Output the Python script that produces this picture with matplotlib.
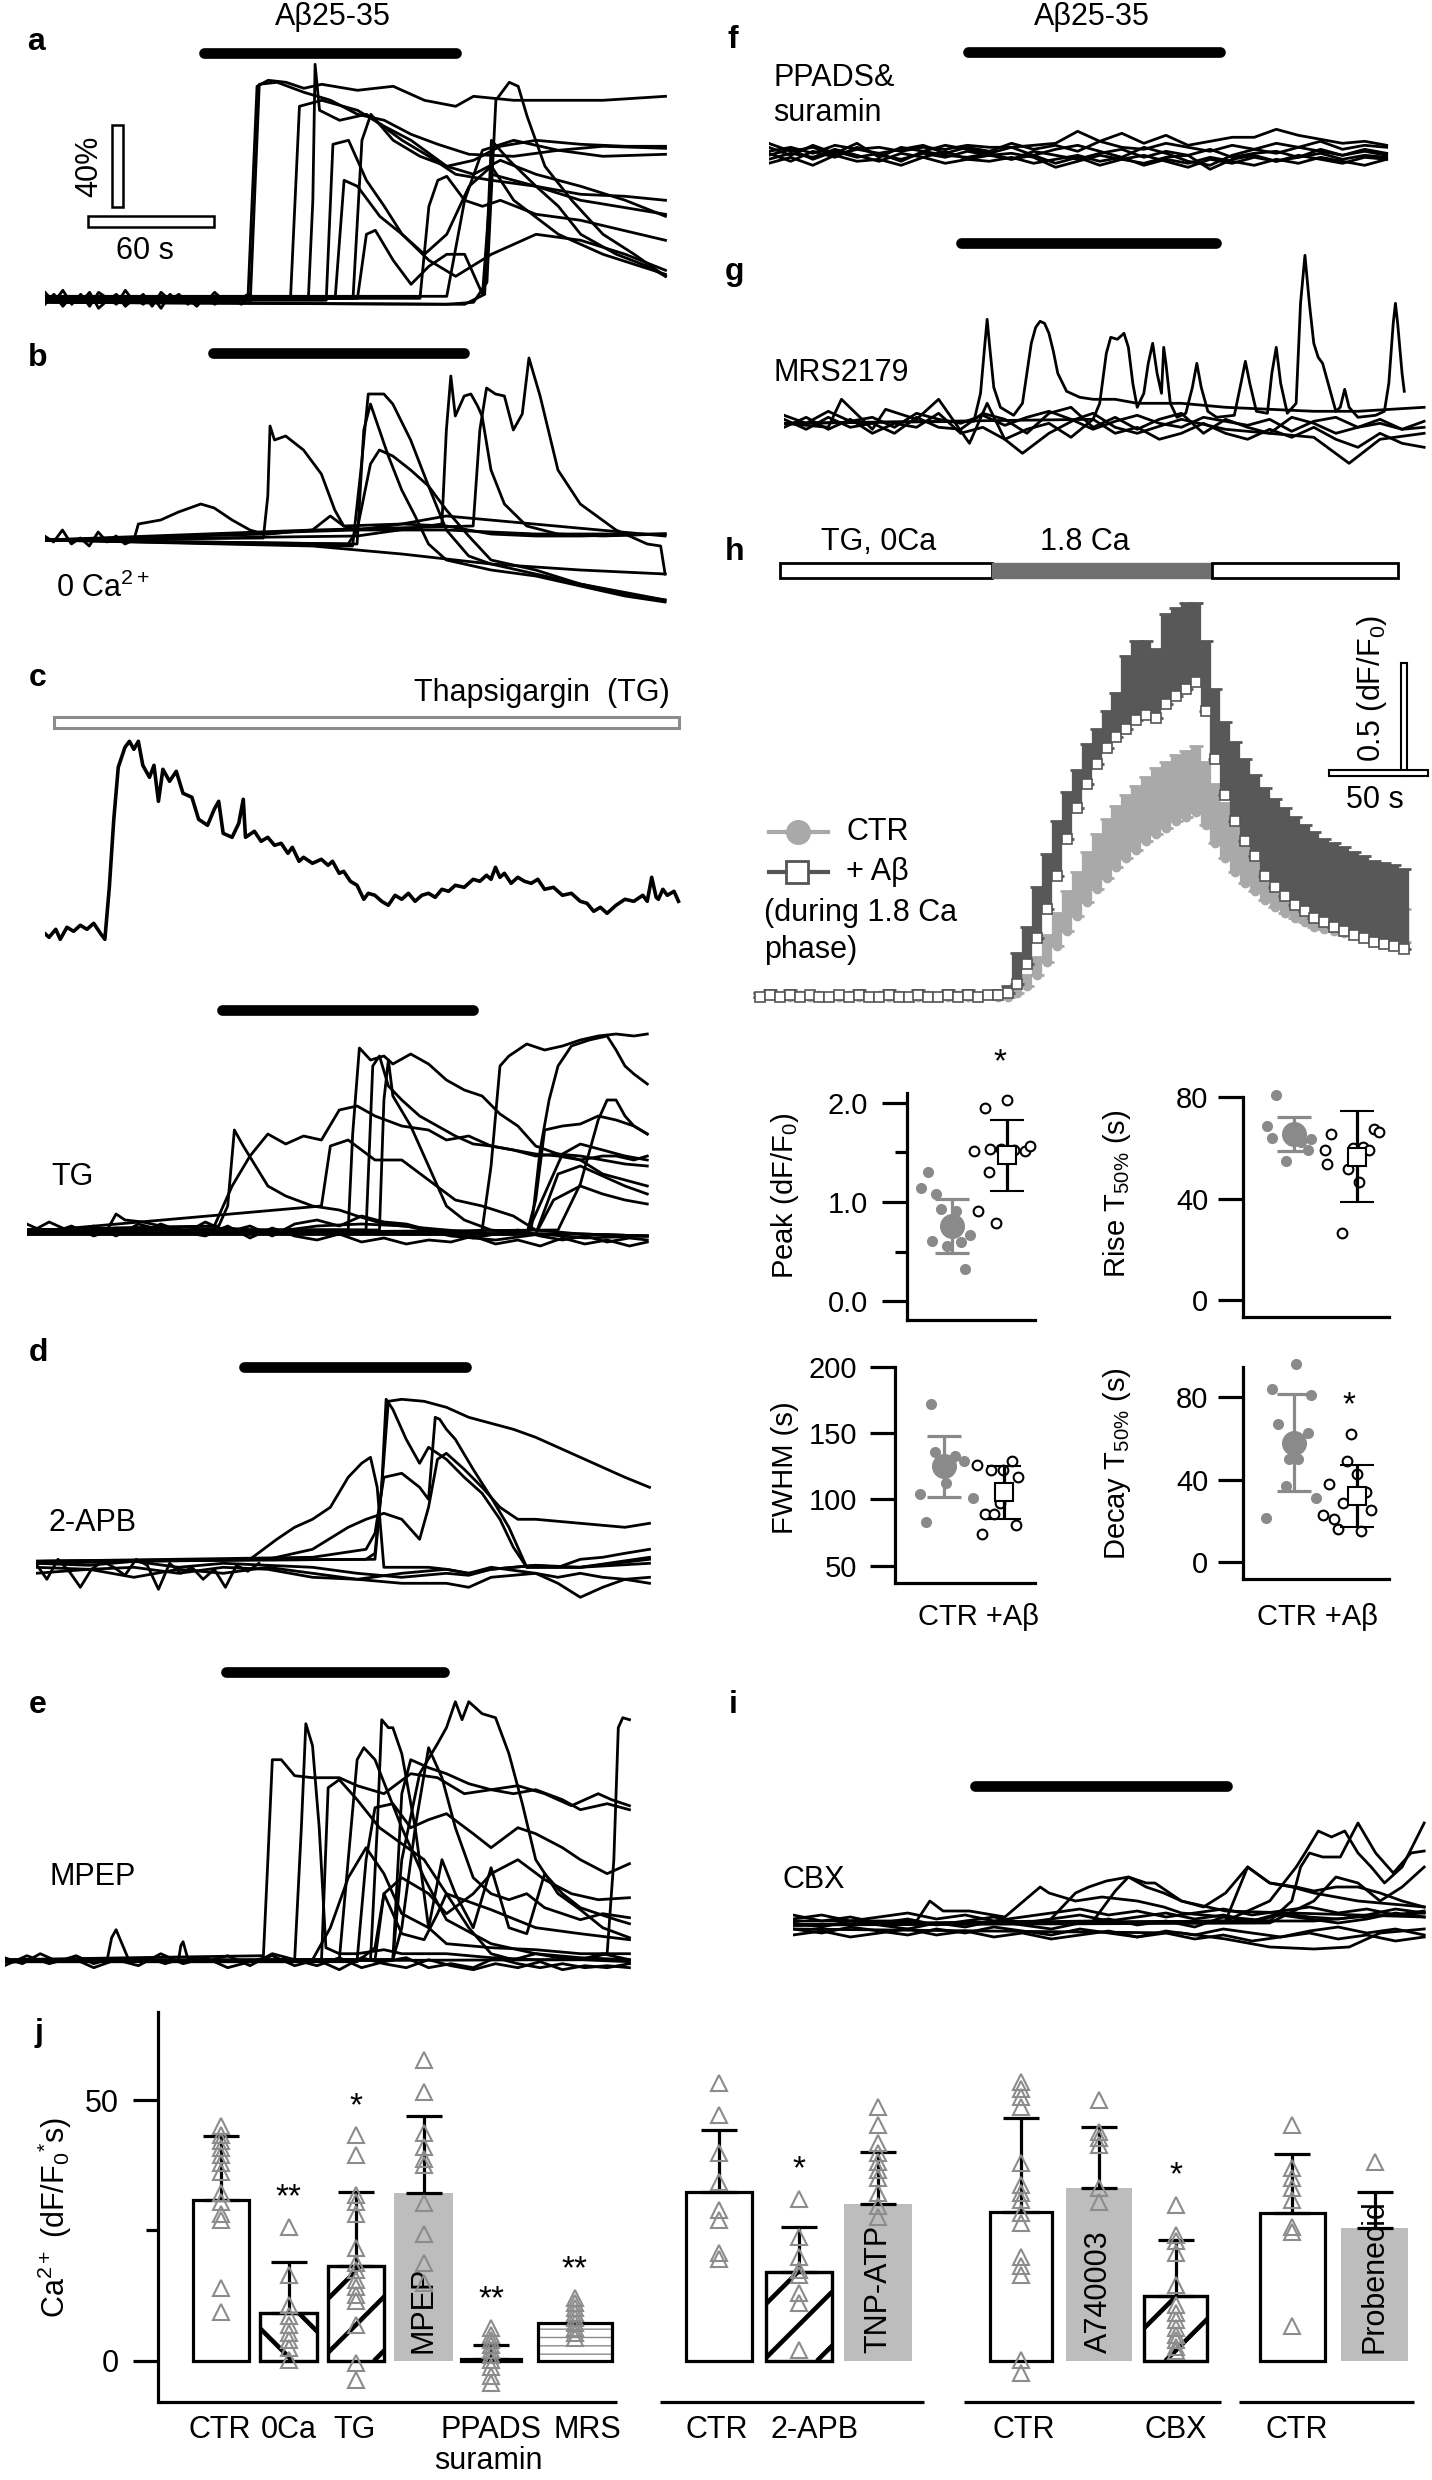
import numpy as np
import matplotlib
matplotlib.use('Agg')
import matplotlib.pyplot as plt
from matplotlib.lines import Line2D
from matplotlib.patches import Rectangle

plt.rcParams['font.family'] = ['Liberation Sans', 'DejaVu Sans']
plt.rcParams['mathtext.fontset'] = 'custom'
plt.rcParams['mathtext.rm'] = 'Liberation Sans'
plt.rcParams['mathtext.it'] = 'Liberation Sans:italic'
plt.rcParams['mathtext.bf'] = 'Liberation Sans:bold'

# ---------------- data ----------------
# a: Abeta25-35 traces (t in s, dF in %)
a_traces = [
    ([0,40,88,91,95,100,108,116,124,140,156,170,184,192,210,230,250,278], [1,-1,0,2,106,109,108,105,107,104,106,99,96,101,99,99,99,101]),
    ([0,92,96,104,116,128,140,152,164,176,190,210,230,250,278], [-1,-1,107,108,103,99,92,89,82,77,72,71,74,76,75]),
    ([0,110,114,124,140,152,164,180,192,204,220,240,260,278], [0,0,96,99,94,86,79,66,62,69,62,56,49,41]),
    ([0,118,120,121,123,132,144,160,172,184,200,220,240,260,278], [0,0,49,117,94,89,92,79,71,62,59,56,52,51,49]),
    ([0,126,129,136,144,152,160,170,180,190,200,210,230,250,278], [-1,-1,77,79,59,46,32,22,32,56,66,49,32,22,12]),
    ([0,138,142,146,156,168,180,192,204,220,240,260,278], [0,0,79,92,79,71,66,69,76,79,77,76,76]),
    ([0,180,192,198,202,208,212,216,224,236,250,264,278], [-2,-3,-2,8,99,108,106,91,66,49,32,22,11]),
    ([0,188,197,200,208,220,230,240,256,270,278], [-2,-3,2,79,69,56,46,32,22,16,11]),
    ([0,168,172,176,180,188,196,204,220,240,278], [0,0,46,59,61,49,46,49,42,39,29]),
    ([0,140,144,148,156,164,172,180,188,196,200,220,240,278], [0,0,32,34,19,7,16,22,22,2,62,56,49,42]),
    ([0,180,188,196,210,230,250,278], [1,1,49,74,79,74,71,72]),
    ([0,130,134,140,150,160,172,184,200,220,240,260,278], [0,0,59,56,41,32,19,11,22,32,29,22,14]),
    ([0,4,8,12,16,20,24,28,32,36,40,44,48,52,56,60,64,68,72,76,80,84,88,92], [3,-2,4,-3,2,-4,3,0,-3,4,-2,2,-4,3,-1,2,-3,1,-2,3,-1,0,-3,2]),
    ([0,4,8,12,16,20,24,28,32,36,40,44,48,52,56,60,64,68,72,76,80,84,88,92], [-3,2,-4,1,-2,3,-5,-1,2,-4,0,-3,1,-5,2,-2,0,-4,1,-3,0,-2,1,-1]),
]

# b: 0 Ca2+
b_traces = [
    ([0,40,42,52,60,70,76,84,92,98,110,140,180,220,278], [0,0,8,10,14,18,16,10,5,3,4,5,5,3,3]),
    ([0,98,100,101,103,108,116,124,130,134,140,160,180,200,220,240,278], [0,1,22,57,50,52,45,33,15,7,5,8,7,3,2,2,3]),
    ([0,138,142,145,152,156,164,172,180,190,200,220,240,260,278], [0,-3,38,73,73,68,50,27,5,-8,-12,-17,-22,-27,-30]),
    ([0,140,143,146,154,160,166,172,180,200,220,240,260,278], [0,-2,55,68,42,25,12,-2,-10,-15,-18,-23,-28,-31]),
    ([0,136,140,146,150,156,164,172,180,190,200,220,240,278], [0,-2,5,38,45,42,35,27,15,2,-10,-15,-22,-30]),
    ([0,140,178,180,182,184,188,191,194,196,200,206,216,230,250,278], [0,2,8,55,82,62,72,73,67,62,35,18,7,3,2,3]),
    ([0,120,192,195,198,202,206,210,214,217,222,230,240,256,270,276,278], [0,5,7,55,76,73,72,55,63,91,72,35,18,5,-2,-3,-17]),
    ([0,80,120,160,200,240,278], [0,-2,-3,-7,-12,-15,-17]),
    ([0,100,120,128,134,160,180,278], [0,3,5,12,7,8,12,2]),
    ([0,4,8,12,16,20,24,28,32,36,40], [2,-1,5,-2,1,-3,4,-1,2,-2,0]),
]

# c: single thapsigargin trace
c_t = [0,2,5,7,10,13,16,19,22,25,27,29,31,33,36,38,40,42,44,47,49,51,53,56,59,62,66,69,73,76,
       78,80,84,87,89,90,94,97,100,103,106,109,111,114,116,120,124,127,129,132,134,137,140,143,145,
       148,151,154,157,160,163,166,169,172,175,178,181,184,188,192,195,198,200,202,204,206,209,212,
       215,218,221,224,228,232,236,240,243,246,249,252,256,260,264,268,270,272,274,275,277,279,282,284]
c_v = [0,-2,2,-3,3,1,4,2,5,0,-3,23,57,83,93,96,92,96,84,78,84,66,82,76,81,70,68,57,54,62,
       66,50,48,55,67,48,51,46,48,44,45,40,43,36,38,35,37,34,36,30,31,26,24,17,20,
       19,16,14,19,17,20,16,19,20,18,22,21,24,23,27,26,29,27,33,28,30,25,28,
       26,25,27,22,23,19,20,16,15,11,13,10,14,17,16,19,16,28,18,17,22,19,21,16]

# TG (c, lower)
tg_grid = [0,10,20,30,40,50,60,70,80,90,100,110,120,130,140,150,160,170,180,190,200,210,220,230,240,250,260,270,278]
tg_traces = [
    ([0,86,90,93,97,108,116,128,140,148,160,168,188,208,228,248,278], [0,2,12,50,42,22,17,12,10,7,3,2,0,-2,-2,-2,-3]),
    ([0,84,92,100,108,116,124,132,140,148,156,168,180,188,198,208,218,228,238,248,258,268,278], [0,2,22,37,48,43,47,45,60,62,57,52,50,45,47,42,40,37,38,37,35,33,32]),
    ([0,144,146,149,154,160,164,172,180,188,196,204,212,220,228,238,248,258,264,272,278], [0,0,48,91,85,87,83,88,83,75,70,67,58,52,42,38,35,37,37,35,37]),
    ([0,152,155,158,162,168,176,184,192,200,208,218,228,238,248,258,268,278], [0,0,82,87,72,65,57,52,47,43,42,40,38,37,35,28,25,22]),
    ([0,158,160,162,164,172,180,188,196,208,228,248,278], [0,0,65,85,67,52,32,12,5,0,-2,-2,-3]),
    ([0,132,136,144,156,168,180,192,204,218,228,248,278], [-1,12,42,45,35,35,25,15,12,7,0,-2,-3]),
    ([0,188,204,208,212,216,224,232,240,248,256,264,272,278], [-1,-2,0,32,82,87,93,90,92,95,97,98,97,98]),
    ([0,218,226,230,234,238,244,252,260,264,268,272,278], [-2,-2,0,40,65,82,92,95,97,90,82,78,73]),
    ([0,224,228,232,240,248,256,264,272,278], [-2,-2,15,50,52,53,57,55,52,48]),
    ([0,238,248,256,260,264,268,272,278], [-2,0,23,55,65,65,57,52,48]),
    ([0,224,234,240,248,258,268,278], [-2,-2,23,38,43,40,37,35]),
    ([0,228,238,248,258,268,278], [-2,-2,28,32,27,22,18]),
    ([0,228,236,248,258,268,278], [-2,-2,15,22,18,15,13]),
    ([0,36,40,44,52,60,70,90,110,130,150,170,190,210,230,250,278], [0,0,8,5,4,2,0,1,-1,2,3,2,-3,-5,-2,-4,-3]),
    (tg_grid, [3,-2,2,-3,1,-2,3,-1,-3,2,-4,1,-3,-5,-2,-6,-4,-7,-5,-6,-3,-7,-5,-8,-4,-7,-5,-8,-6]),
    (tg_grid, [-2,4,-1,2,-3,3,0,-2,4,-1,2,-3,3,5,2,7,4,3,0,-2,-4,-2,0,-3,-5,-3,-6,-4,-5]),
]

# d: 2-APB
d_grid = [0,24,44,64,84,104,124,144,164,184,194,204,224,234,244,254,264,275]
d_traces = [
    ([0,148,152,155,158,164,174,184,194,204,214,224,234,244,254,264,275], [1,2,5,38,81,82,81,78,73,70,67,63,58,53,48,43,38]),
    ([0,96,102,108,116,124,132,140,146,150,153,156,164,176,184,194,204,214,224,244,275], [1,2,7,12,18,22,28,43,50,53,38,-2,-2,-2,-3,-5,-3,-2,-1,-2,3]),
    ([0,152,155,157,160,166,172,176,180,184,192,200,208,214,220,244,275], [1,2,38,82,77,62,50,58,55,52,43,35,22,8,-2,-2,2]),
    ([0,124,136,148,152,156,164,172,176,179,181,184,188,196,204,212,220,244,275], [1,3,5,7,15,43,45,38,32,73,72,67,62,47,33,18,-2,-2,0]),
    ([0,104,124,140,148,156,164,172,176,180,184,192,200,208,216,224,244,264,275], [0,2,7,18,22,25,22,12,28,52,55,47,38,28,22,22,20,18,20]),
    (d_grid, [-5,-3,-7,-3,-5,-2,-5,-8,-10,-10,-12,-7,-5,-10,-17,-12,-8,-10]),
    (d_grid, [0,-1,1,-2,0,-1,-2,-5,-7,-5,-6,-3,-1,-2,2,3,5,7]),
    (d_grid, [-2,-3,-2,-5,-2,-3,-7,-8,-5,-3,-5,-2,-5,-7,-5,-7,-8,-7]),
    ([0,5,10,15,20,25,30,35,40,45,50,55,60,65,70,75,80,85,90,95,100], [0,-8,2,-4,-12,-3,1,-2,-6,2,-1,-13,0,-5,-2,-8,-3,-12,-1,-4,0]),
]

# e: MPEP
e_grid = [0,10,20,30,40,50,60,70,80,90,100,110,120,130,140,150,160,170,180,190,200,210,220,230,240,250,260,270,280]
e_traces = [
    ([0,116,118,120,124,130,138,150,158,170,182,194,206,218,230,242,254,266,272,280], [1,3,51,101,101,93,92,92,88,84,94,92,84,86,88,84,78,84,81,78]),
    ([0,130,133,135,138,141,144,150,158,170,178,198,218,238,258,280], [1,1,67,119,108,67,7,4,4,6,4,4,2,1,1,0]),
    ([0,164,167,169,172,174,178,184,190,198,218,238,258,280], [0,1,67,121,117,117,104,67,17,9,7,6,4,4]),
    ([0,174,178,186,194,198,202,205,208,214,220,226,232,238,248,258,268,280], [0,1,51,94,109,117,130,121,130,124,122,104,79,51,34,26,17,12]),
    ([0,150,154,158,161,166,172,178,188,198,218,238,258,280], [0,1,51,101,107,101,84,67,42,21,9,4,2,1]),
    ([0,142,145,150,158,168,178,188,198,218,238,258,280], [0,0,87,91,81,67,59,51,34,26,17,14,11]),
    ([0,158,162,166,174,182,190,198,210,218,230,238,250,258,270,280], [0,1,51,77,79,67,71,74,64,57,67,64,57,51,44,49]),
    ([0,174,178,182,190,198,208,218,228,238,250,258,270,280], [0,1,84,101,97,94,89,86,84,86,81,76,79,76]),
    ([0,258,270,273,275,277,280], [0,1,4,51,117,122,121]),
    ([0,138,146,154,162,170,178,190,196,202,210,218,226,234,242,250,258,266,274,280], [0,1,17,42,57,44,24,17,51,34,17,47,17,14,44,34,27,24,21,19]),
    ([0,158,166,170,178,188,194,198,208,218,228,238,248,258,268,280], [0,0,7,34,14,11,24,34,17,4,1,4,2,1,4,1]),
    ([0,174,178,184,190,196,202,210,218,226,234,242,250,258,268,280], [0,1,17,67,107,92,67,42,34,31,34,27,24,21,24,22]),
    ([0,166,170,178,190,198,210,218,230,242,254,266,280], [0,1,34,42,34,24,34,44,51,41,34,31,32]),
    ([0,8,16,24,32,40,46,48,50,53,56,64,72,78,79,80,82,90,100,110,120,130,140,150,160,170,180,190,200,210,220,230,240,250,260,270,280],
     [2,-1,4,0,3,-1,1,12,16,8,0,2,-1,1,8,10,2,0,3,-2,4,1,-2,2,-3,0,2,-3,-1,-3,2,-1,-3,-1,-3,-2,-3]),
    (e_grid, [-2,3,-1,2,-3,1,-2,4,-1,2,-3,0,3,-2,1,-4,2,-1,-3,1,-2,-4,-1,-3,0,-4,-2,-3,-1]),
]

# f: PPADS & suramin
f_grid = [0,10,20,30,40,50,60,70,80,90,100,110,120,130,140,150,160,170,180,190,200,210,220,230,240,250,260,270,280]
f_traces = [
    (f_grid, [1,3,0,4,2,3,1,3,2,4,3,3,4,5,11,6,10,5,9,4,6,8,8,12,9,7,5,6,4]),
    (f_grid, [-1,2,-3,1,-2,0,-4,1,-1,-2,0,-3,-1,-5,-2,-6,-3,-1,-4,-7,-3,-5,-2,-4,-1,-3,-5,-2,-3]),
    (f_grid, [3,-1,4,0,5,-2,3,1,4,2,0,3,-1,2,4,1,-2,3,0,-4,-6,-1,2,0,3,1,-1,2,0]),
    (f_grid, [-3,0,-2,2,-1,-4,0,-2,1,-3,-1,0,-2,-7,-4,-1,-3,-5,-2,-1,-8,-3,-1,-4,-2,0,-3,-1,-2]),
    (f_grid, [0,-4,1,-2,3,-1,-3,0,-2,1,-1,-3,1,-1,-3,0,2,-2,1,-1,2,-2,0,1,-2,2,-1,1,-1]),
    (f_grid, [5,1,3,-1,2,0,2,4,0,3,1,5,2,4,1,6,3,2,5,3,1,4,2,5,3,6,2,4,3]),
    (f_grid, [-5,-2,-6,-1,-4,-3,-6,-2,-5,-3,-4,-2,-5,-3,-1,-4,-2,-6,-3,-5,-2,-4,-6,-3,-5,-2,-4,-6,-3]),
]

# g: MRS2179
g_grid = [0,10,20,30,40,50,60,70,80,90,100,110,120,130,140,150,160,170,180,190,200,210,220,230,240,250,260,270,280,290]
g_traces = [
    ([0,86,89,91,92,93,95,98,104,108,110,112,114,116,118,120,122,124,128,134,140,150,160,180,200,220,240,260,290],
     [0,1,15,40,52,40,18,8,4,10,25,40,48,51,50,45,36,25,16,13,12,12,10,10,8,7,6,6,8]),
    ([0,140,143,146,148,151,154,156,158,160,163,165,167,169,171,172,173,175,178,182,185,187,189,192,196,204,207,209,211,214,
      219,221,223,225,228,232,234,236,238,240,242,244,247,250,252,254,256,260,268,272,274,276,277,278,280,281],
     [0,2,10,35,43,42,45,38,20,8,15,30,40,25,15,38,30,10,3,5,18,30,18,6,3,4,20,31,20,6,
      5,25,38,20,5,10,60,84,60,40,33,30,18,6,8,17,8,3,4,6,20,50,60,50,25,16]),
    ([0,20,26,40,46,60,70,84,92,100,108,120,132,140,150,160,180,200,220,240,256,270,290], [0,-2,12,-3,7,2,12,-10,10,-8,-15,-5,2,5,-2,-5,2,-3,-5,-7,-20,-8,-5]),
    (g_grid, [2,-3,3,-2,0,-5,3,-2,-3,5,2,-5,5,8,-2,3,-3,2,5,-5,2,-2,-5,3,0,-5,-2,2,-3,-2]),
    (g_grid, [-2,3,-3,2,-5,0,-2,5,-5,-2,-8,-3,0,-7,2,-5,-2,-8,-5,0,-5,-8,-3,-7,-2,-8,-12,-5,-10,-12]),
    (g_grid, [4,0,6,1,3,-2,5,2,0,4,-1,3,6,2,-3,1,4,0,-2,3,1,-1,2,-4,1,3,-2,0,-3,1]),
]

# i: CBX
i_grid = [0,13,26,39,52,65,78,91,104,117,130,143,156,169,182,195,208,221,234,247,260,273,286]
i_traces = [
    ([0,56,62,68,80,96,112,116,128,140,156,168,176,196,216,236,256,286], [2,2,12,7,7,4,19,16,12,14,12,9,6,4,2,2,4,6]),
    ([0,116,128,134,142,152,160,164,176,186,196,206,216,226,236,256,286], [0,2,16,19,22,24,21,21,12,9,16,29,21,19,16,12,9]),
    ([0,196,216,228,232,238,244,250,256,262,268,276,286], [0,2,12,29,36,47,44,47,36,29,21,29,51]),
    ([0,216,226,230,234,240,248,256,264,272,280,286], [0,2,12,29,36,34,34,51,36,26,36,37]),
    ([0,196,206,216,228,236,246,256,266,276,286], [0,2,29,21,19,17,19,19,16,12,9]),
    ([0,176,196,206,216,236,252,266,286], [-2,-4,-7,-9,-11,-12,-11,-4,-2]),
    ([0,216,236,246,256,266,276,286], [0,1,12,24,21,12,19,29]),
    ([0,136,146,152,160,168,176,196,286], [0,2,17,24,19,16,12,7,4]),
    (i_grid, [5,2,4,1,3,0,2,4,1,3,5,2,4,6,3,5,2,6,4,3,5,8,6]),
    (i_grid, [-2,-4,-1,-3,-5,-2,-4,-1,-3,-5,-2,-4,-6,-3,-5,-2,-4,-6,-3,-1,-4,-2,-5]),
    (i_grid, [1,-1,2,0,-2,1,-1,2,0,-2,1,3,0,2,-1,4,2,5,3,1,3,6,4]),
    (i_grid, [-5,-3,-6,-4,-2,-5,-3,-6,-4,-7,-5,-3,-6,-4,-7,-5,-8,-6,-4,-7,-5,-8,-6]),
    (i_grid, [3,5,2,4,6,3,5,2,4,6,8,5,7,4,6,8,5,7,9,6,8,5,7]),
]

# h: mean +/- SD, dF/F0 versus time (s)
h_time = list(range(0, 330, 5))
ctr_mean = [0.00,0.01,0.00,0.00,0.01,0.00,0.01,0.00,0.00,0.01,0.00,0.00,0.01,0.00,0.01,0.00,0.00,0.01,0.00,0.00,0.01,0.00,0.00,0.01,0.00,
            0.00,0.02,0.05,0.10,0.16,0.23,0.30,0.37,0.43,0.49,0.54,0.59,0.63,0.67,0.71,0.74,0.77,0.80,0.82,0.84,
            0.78,0.70,0.63,0.57,0.52,0.48,0.44,0.41,0.38,0.36,0.34,0.32,0.31,0.30,0.29,0.28,0.27,0.26,0.26,0.25,0.25]
ctr_sd = [0.02,0.01,0.02,0.02,0.01,0.02,0.01,0.02,0.02,0.01,0.02,0.02,0.01,0.02,0.01,0.02,0.02,0.01,0.02,0.02,0.01,0.02,0.02,0.01,0.02,
          0.01,0.03,0.05,0.08,0.12,0.15,0.18,0.20,0.23,0.25,0.27,0.28,0.29,0.29,0.29,0.30,0.30,0.30,0.30,0.30,
          0.29,0.27,0.25,0.24,0.23,0.22,0.22,0.21,0.20,0.19,0.19,0.19,0.18,0.17,0.17,0.17,0.17,0.17,0.16,0.16,0.15]
abeta_mean = [0.00,0.01,0.00,0.01,0.00,0.01,0.00,0.00,0.01,0.00,0.01,0.00,0.00,0.01,0.00,0.00,0.01,0.00,0.00,0.01,0.00,0.01,0.00,0.01,0.01,
              0.02,0.06,0.15,0.27,0.40,0.55,0.72,0.86,0.97,1.06,1.13,1.18,1.22,1.26,1.28,1.27,1.33,1.37,1.40,1.43,1.30,
              1.08,0.92,0.80,0.71,0.64,0.55,0.50,0.46,0.42,0.39,0.36,0.34,0.32,0.30,0.28,0.27,0.25,0.24,0.23,0.22]
abeta_sd = [0.02,0.02,0.01,0.02,0.02,0.01,0.02,0.02,0.01,0.02,0.02,0.01,0.02,0.02,0.01,0.02,0.02,0.01,0.02,0.02,0.01,0.02,0.02,0.01,0.02,
            0.03,0.14,0.17,0.23,0.25,0.25,0.21,0.17,0.18,0.16,0.17,0.20,0.33,0.36,0.34,0.31,0.41,0.40,0.39,0.36,0.32,
            0.32,0.33,0.36,0.37,0.37,0.40,0.40,0.40,0.40,0.39,0.39,0.38,0.38,0.38,0.38,0.37,0.37,0.37,0.37,0.36]

# h summary scatter (CTR, +Abeta); dx = horizontal jitter
peak_ctr = [1.30,1.14,1.08,0.93,0.91,0.67,0.61,0.60,0.56,0.32]
peak_ctr_dx = [-0.44,-0.56,-0.29,-0.20,0.07,0.32,-0.36,0.16,-0.09,0.24]
peak_ab = [1.95,2.03,1.51,1.30,1.54,1.54,1.53,1.51,1.57,0.91,0.79]
peak_ab_dx = [-0.40,0.00,-0.60,-0.33,-0.31,-0.10,0.12,0.32,0.42,-0.53,-0.20]
peak_mean, peak_sd = [0.76, 1.47], [0.27, 0.36]

rise_ctr = [80.6,68.6,63.9,54.9,62.4,59.3,63.5,66.5,63.0]
rise_ctr_dx = [-0.29,-0.43,-0.35,-0.14,0.10,0.21,0.27,0.00,-0.05]
rise_ab = [65.6,59.3,53.7,51.5,59.8,60.3,59.3,67.6,66.2,46.7,26.5]
rise_ab_dx = [-0.41,-0.51,-0.48,-0.14,-0.06,0.10,0.19,0.27,0.35,0.03,-0.24]
rise_mean, rise_sd = [65.4, 56.6], [6.7, 18.0]

fwhm_ctr = [172,136,133,129,104,112,101,83]
fwhm_ctr_dx = [-0.22,-0.15,0.18,0.33,-0.40,0.03,0.47,-0.30]
fwhm_ab = [126,122,122,129,117,97,89,89,81,74]
fwhm_ab_dx = [-0.45,-0.22,-0.03,0.12,0.23,-0.08,-0.33,-0.17,0.20,-0.37]
fwhm_mean, fwhm_sd = [124.9, 105.2], [23.0, 19.7]

decay_ctr = [96,83.9,80.9,66.7,62.6,49.8,49.8,37,31.1,21.7]
decay_ctr_dx = [0.03,-0.35,0.26,-0.26,0.21,0.06,-0.08,-0.13,0.35,-0.46]
decay_ab = [62.2,48.9,42.7,37.7,33.8,28.8,25.2,23.1,21,16,15.1]
decay_ab_dx = [-0.09,-0.16,0.00,-0.44,0.14,-0.23,0.22,-0.54,-0.37,-0.30,0.06]
decay_mean, decay_sd = [57.8, 32.0], [23.4, 14.9]

# j: integrated Ca2+ (dF/F0*s)
j_names = ['CTR','0Ca','TG','MPEP','PPADS','MRS','CTR','2-APB','TNP-ATP','CTR','A740003','CBX','CTR','Probenecid']
j_means = [30.8, 9.1, 18.1, 32.1, 0.3, 7.2, 32.4, 17.1, 30.1, 28.6, 33.1, 12.5, 28.4, 25.4]
j_err = [12.3, 9.9, 14.2, 14.8, 2.8, 0.0, 11.9, 8.6, 10.0, 17.9, 11.8, 10.7, 11.2, 7.0]
j_points = [
    [45,43.3,42.1,40.8,39.5,37.9,36.3,32.1,30.5,28.2,27,13.9,9.4],
    [25.7,16.5,10.7,8.5,6.9,5.3,4.0,2.4,0.2],
    [43.3,39.5,31.8,30.5,28.2,21.6,18.7,17.4,15.5,14.2,12.6,11.4,6.9,-0.4,-3.6],
    [57.7,51.6,43.6,41.0,38.8,37.5,30.2,24.4,18.7,14.9],
    [6.3,5.0,4.0,3.1,2.1,1.1,0.2,-1.1,-3.0,-4.3],
    [12.0,11.1,10.1,9.2,8.2,7.2,6.3,5.4,4.4],
    [53.2,47.1,39.8,34.3,28.9,27.0,20.6,19.6],
    [31.1,23.8,20.0,17.4,16.5,13.0,11.1,2.1],
    [48.7,45.2,41.7,39.8,38.2,36.6,35.0,32.1,29.6,27.6],
    [53.5,52.2,50.6,48.7,37.9,33.7,32.1,30.8,28.3,26.4,20.0,18.1,16.5,0.2,-2.4],
    [50.0,43.9,42.7,41.4,33.1,30.5],
    [29.9,24.1,22.9,20.6,14.6,10.7,9.1,7.9,6.3,5.0,4.0,2.7,1.8],
    [45.2,36.9,35.0,33.1,30.8,25.7,24.8,6.6],
    [38.2],
]
j_stars = ['', '**', '*', '', '**', '**', '', '*', '', '', '', '*', '', '']

# ---------------- figure helpers (pixel layout) ----------------
W, H = 1432, 2480
fig = plt.figure(figsize=(W / 100, H / 100), dpi=100)


def box(x0, y0, x1, y1):
    return [x0 / W, 1 - y1 / H, (x1 - x0) / W, (y1 - y0) / H]


def ftext(x, y, s, **kw):
    kw.setdefault('fontsize', 22)
    kw.setdefault('ha', 'center')
    kw.setdefault('va', 'center')
    fig.text(x / W, 1 - y / H, s, **kw)


def fbar(x0, x1, y, lw=7.7, color='black'):
    fig.add_artist(Line2D([x0 / W, x1 / W], [1 - y / H, 1 - y / H], lw=lw,
                          color=color, solid_capstyle='round'))


def frect(x0, y0, x1, y1, **kw):
    fig.add_artist(Rectangle((x0 / W, 1 - y1 / H), (x1 - x0) / W, (y1 - y0) / H,
                             transform=fig.transFigure, **kw))


def trace_axes(left, base, xmax, vmin, vmax, kx):
    ax = fig.add_axes(box(left, base - vmax * 2, left + xmax * kx, base - vmin * 2))
    ax.set_xlim(0, xmax)
    ax.set_ylim(vmin, vmax)
    ax.axis('off')
    return ax


def draw_traces(ax, traces, lw=2.0):
    for t, v in traces:
        n = min(len(t), len(v))
        ax.plot(t[:n], v[:n], color='black', lw=lw, solid_joinstyle='round')


def letter(x, y, s):
    ftext(x, y, s, fontsize=23, fontweight='bold')


# ---------------- trace panels ----------------
ax = trace_axes(45, 298.3, 280, -10, 125, 2.232)
draw_traces(ax, a_traces)
letter(36, 42, 'a')
ftext(333, 17, 'A\u03b225-35')
fbar(204, 456, 53)
frect(112, 125, 123, 207, facecolor='white', edgecolor='black', lw=1.8)
frect(88, 216, 214, 227, facecolor='white', edgecolor='black', lw=1.8)
ftext(89, 166, '40%', rotation=90)
ftext(145, 251, '60 s')

ax = trace_axes(44.6, 540, 280, -40, 100, 2.232)
draw_traces(ax, b_traces)
letter(38, 358, 'b')
fbar(213, 464, 353)
ftext(56, 588, '0 Ca$^{2+}$', ha='left')

ax = trace_axes(44.6, 933.3, 285, -10, 105, 2.232)
ax.plot(c_t, c_v, color='black', lw=2.6, solid_joinstyle='round')
letter(38, 678, 'c')
ftext(670, 693, 'Thapsigargin  (TG)', ha='right')
frect(54, 717, 679, 728, facecolor='white', edgecolor='#8c8c8c', lw=2.2)

ax = trace_axes(26.8, 1230, 280, -10, 105, 2.232)
draw_traces(ax, tg_traces)
fbar(222, 473, 1010)
ftext(51, 1177, 'TG', ha='left')

ax = trace_axes(35.7, 1563.3, 276, -20, 90, 2.232)
draw_traces(ax, d_traces)
letter(38, 1353, 'd')
fbar(244, 466, 1367)
ftext(49, 1523, '2-APB', ha='left')

ax = trace_axes(4.5, 1961.7, 281, -10, 135, 2.232)
draw_traces(ax, e_traces)
letter(38, 1705, 'e')
fbar(226, 444, 1672)
ftext(49, 1877, 'MPEP', ha='left')

ax = trace_axes(768.7, 153.3, 285, -15, 20, 2.207)
draw_traces(ax, f_traces)
letter(733, 40, 'f')
ftext(1092, 17, 'A\u03b225-35')
fbar(968, 1220, 52)
ftext(773, 78, 'PPADS&', ha='left')
ftext(773, 113, 'suramin', ha='left')

ax = trace_axes(784.1, 423.3, 291, -25, 90, 2.207)
draw_traces(ax, g_traces)
letter(735, 272, 'g')
fbar(961, 1216, 243)
ftext(773, 373, 'MRS2179', ha='left')

ax = trace_axes(793, 1925, 287, -15, 55, 2.207)
draw_traces(ax, i_traces)
letter(733, 1705, 'i')
fbar(975, 1227, 1786)
ftext(782, 1880, 'CBX', ha='left')

# ---------------- h: averaged responses ----------------
letter(735, 552, 'h')
ax = fig.add_axes(box(750, 590, 1415, 1010))
ax.set_xlim(-5.05, 330.8)
ax.set_ylim(-0.059, 1.85)
ax.axis('off')
t = np.array(h_time)
zero = np.zeros(len(t))
ax.errorbar(t, ctr_mean, yerr=[zero, ctr_sd], fmt='o', ms=6, color='#a9a9a9', mec='#a9a9a9',
            ecolor='#a9a9a9', elinewidth=7.4, capsize=5, capthick=2, zorder=2)
ax.errorbar(t, abeta_mean, yerr=[zero, abeta_sd], fmt='none', ecolor='#585858',
            elinewidth=7.4, capsize=5, capthick=2, zorder=3)
ax.plot(t, abeta_mean, 's', ms=7.4, mfc='white', mec='#555555', mew=1.2, zorder=4)

frect(780, 563, 992, 578, facecolor='white', edgecolor='black', lw=2)
frect(992, 563, 1212, 578, facecolor='#707070', edgecolor='#707070', lw=1)
frect(1212, 563, 1398, 578, facecolor='white', edgecolor='black', lw=2)
ftext(879, 542, 'TG, 0Ca')
ftext(1085, 542, '1.8 Ca')
frect(1401, 663, 1407, 776, facecolor='white', edgecolor='black', lw=1.5)
frect(1329, 770, 1428, 776, facecolor='white', edgecolor='black', lw=1.5)
ftext(1372, 688, '0.5 (dF/F$_0$)', rotation=90)
ftext(1375, 800, '50 s')
# legend
fig.add_artist(Line2D([769 / W, 828 / W], [1 - 832 / H] * 2, lw=3, color='#a9a9a9'))
fig.add_artist(Line2D([798 / W], [1 - 832 / H], marker='o', ms=17, mfc='#a9a9a9', mec='#a9a9a9'))
fig.add_artist(Line2D([769 / W, 828 / W], [1 - 872 / H] * 2, lw=3, color='#555555'))
fig.add_artist(Line2D([797 / W], [1 - 872 / H], marker='s', ms=16, mfc='white', mec='#555555', mew=2))
ftext(846, 832, 'CTR', ha='left')
ftext(846, 872, '+ A\u03b2', ha='left')
ftext(764, 913, '(during 1.8 Ca', ha='left')
ftext(764, 950, 'phase)', ha='left')


# ---------------- h: summary scatter ----------------
def scatter_panel(bx, ylim, yticks, ticklabels, ctr, ctr_dx, ab, ab_dx, means, sds, minor=None, pad=10):
    ax = fig.add_axes(box(*bx))
    ax.set_xlim(-0.82, 1.51)
    ax.set_ylim(*ylim)
    for s in ('top', 'right'):
        ax.spines[s].set_visible(False)
    for s in ('left', 'bottom'):
        ax.spines[s].set_linewidth(2.3)
    ax.set_xticks([])
    ax.set_yticks(yticks)
    ax.set_yticklabels(ticklabels)
    if minor is not None:
        ax.set_yticks(minor, minor=True)
    ax.tick_params(axis='y', which='major', length=18, width=2.3, labelsize=21, pad=pad)
    ax.tick_params(axis='y', which='minor', length=9, width=2.3)
    ax.plot(ctr_dx, ctr, 'o', ms=8, color='#8a8a8a', mec='none', zorder=2, clip_on=False)
    ax.errorbar([0], [means[0]], yerr=[sds[0]], fmt='o', ms=17, color='#8a8a8a', ecolor='#8a8a8a',
                elinewidth=2.3, capsize=12.5, capthick=2.3, zorder=3)
    ax.plot(1 + np.array(ab_dx), ab, 'o', ms=7, mfc='white', mec='black', mew=1.5, zorder=4, clip_on=False)
    ax.errorbar([1], [means[1]], yerr=[sds[1]], fmt='s', ms=13, mfc='white', mec='black', mew=1.5,
                ecolor='black', elinewidth=2.3, capsize=12.5, capthick=2.3, zorder=5)
    return ax


scatter_panel((907, 1093, 1035, 1320), (-0.19, 2.10), [0, 1, 2], ['0.0', '1.0', '2.0'],
              peak_ctr, peak_ctr_dx, peak_ab, peak_ab_dx, peak_mean, peak_sd, minor=[0.5, 1.5], pad=10)
ftext(785, 1196, 'Peak (dF/F$_0$)', rotation=90, fontsize=21)
ftext(1000, 1063, '*', fontsize=24)

scatter_panel((1243, 1097, 1389, 1317), (-6.5, 80), [0, 40, 80], ['0', '40', '80'],
              rise_ctr, rise_ctr_dx, rise_ab, rise_ab_dx, rise_mean, rise_sd, pad=7)
ftext(1117, 1194, 'Rise T$_{50\\%}$ (s)', rotation=90, fontsize=21)

scatter_panel((895, 1367, 1035, 1583), (36.8, 200), [50, 100, 150, 200], ['50', '100', '150', '200'],
              fwhm_ctr, fwhm_ctr_dx, fwhm_ab, fwhm_ab_dx, fwhm_mean, fwhm_sd, pad=9)
ftext(785, 1468, 'FWHM (s)', rotation=90, fontsize=21)

scatter_panel((1243, 1367, 1389, 1579), (-8, 94.4), [0, 40, 80], ['0', '40', '80'],
              decay_ctr, decay_ctr_dx, decay_ab, decay_ab_dx, decay_mean, decay_sd, pad=7)
ftext(1117, 1464, 'Decay T$_{50\\%}$ (s)', rotation=90, fontsize=21)
ftext(1349, 1406, '*', fontsize=24)

ftext(978, 1617, 'CTR +A\u03b2', fontsize=21)
ftext(1317, 1617, 'CTR +A\u03b2', fontsize=21)

# ---------------- j: bar chart ----------------
letter(39, 2033, 'j')
axj = fig.add_axes(box(158, 2012, 1414, 2402))
axj.set_xlim(-0.933, 17.67)
axj.set_ylim(-7.9, 66.9)
for s in ('top', 'right', 'bottom'):
    axj.spines[s].set_visible(False)
axj.spines['left'].set_linewidth(2.3)
axj.set_xticks([])
axj.set_yticks([0, 50])
axj.set_yticks([25], minor=True)
axj.tick_params(axis='y', which='major', length=18, width=2.3, labelsize=22, pad=10)
axj.tick_params(axis='y', which='minor', length=9, width=2.3)
fig.text(55 / W, 1 - 2217 / H, 'Ca$^{2+}$ (dF/F$_0$$^{*}$s)', rotation=90, fontsize=22,
         ha='center', va='center')

# layout of the bars (slot positions and widths)
j_pos = [0, 1.0, 2.0, 3.0, 4.0, 5.24, 7.38, 8.56, 9.73, 11.85, 13.0, 14.14, 15.87, 17.09]
j_wid = [0.83, 0.84, 0.83, 0.87, 0.89, 1.1, 0.98, 0.98, 1.0, 0.92, 0.98, 0.93, 0.95, 0.99]
j_style = ['open', 'back', 'fwd', 'gray', 'open', 'hline', 'open', 'fwd', 'gray', 'open', 'gray', 'fwd', 'open', 'gray']
slope = 67.5 / 5.22  # data-y per data-x for a 45 degree line


def hatch(ax, patch, x0, w, h, direction, step=0.8):
    span = h / slope
    for xs in np.arange(x0 - span - step * 0.4, x0 + w + step, step):
        xx = [xs, xs + span] if direction == 'fwd' else [xs + span, xs]
        ln, = ax.plot(xx, [0, h], color='black', lw=3.3, solid_capstyle='butt', zorder=2)
        ln.set_clip_path(patch)


for k in range(len(j_names)):
    x, w, m, st = j_pos[k], j_wid[k], j_means[k], j_style[k]
    if st == 'gray':
        axj.bar(x, m, w, color='#bdbdbd', lw=0, zorder=1)
        axj.text(x, 1.5, j_names[k], rotation=90, ha='center', va='bottom', fontsize=22, zorder=3)
    elif st == 'hline':
        axj.bar(x, m, w, color='white', edgecolor='#8a8a8a', hatch='--', lw=0, zorder=1)
        axj.bar(x, m, w, fill=False, edgecolor='black', lw=2.3, zorder=2)
    else:
        bars = axj.bar(x, m, w, color='white', edgecolor='black', lw=2.3, zorder=1)
        if st in ('fwd', 'back'):
            hatch(axj, bars.patches[0], x - w / 2, w, m, st)
            axj.bar(x, m, w, fill=False, edgecolor='black', lw=2.3, zorder=3)
    if j_err[k] > 0:
        axj.errorbar([x], [m], yerr=[[0], [j_err[k]]], fmt='none', ecolor='black',
                     elinewidth=2.3, capsize=13, capthick=2.3, zorder=3)
    axj.plot([x] * len(j_points[k]), j_points[k], '^', ms=11, mfc='none', mec='#8c8c8c',
             mew=1.5, zorder=4, clip_on=False)
    if j_stars[k]:
        top = max(max(j_points[k]), m + j_err[k])
        axj.text(x, top + 5.5, j_stars[k], ha='center', va='center', fontsize=24, zorder=5)

# group axis lines
for x0, x1 in [(-0.933, 5.87), (6.5, 10.41), (11.0, 14.81), (15.08, 17.67)]:
    axj.plot([x0, x1], [-7.9, -7.9], color='black', lw=2.3, clip_on=False, solid_capstyle='butt')

for x, s in [(220, 'CTR'), (289, '0Ca'), (355, 'TG'), (491, 'PPADS'), (587, 'MRS'),
             (717, 'CTR'), (815, '2-APB'), (1024, 'CTR'), (1176, 'CBX'), (1297, 'CTR')]:
    ftext(x, 2430, s)
ftext(488, 2461, 'suramin')

fig.savefig('out.png', dpi=100)
